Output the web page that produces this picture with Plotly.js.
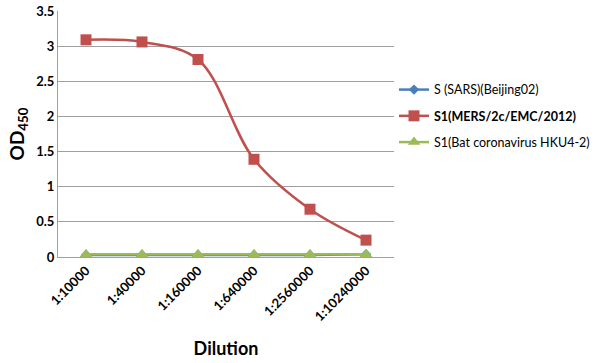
<!DOCTYPE html>
<html><head><meta charset="utf-8">
<script src="https://cdn.plot.ly/plotly-3.0.1.min.js"></script>
<style>body{margin:0;background:#fff}#c{width:595px;height:363px}</style>
</head><body><div id="c"></div>
<script>
const dilutions = ["1:10000","1:40000","1:160000","1:640000","1:2560000","1:10240000"];
const sars = [0.03,0.03,0.03,0.03,0.03,0.04];
const mers = [3.09,3.06,2.81,1.39,0.68,0.24];
const hku4 = [0.04,0.04,0.04,0.04,0.04,0.04];
const seriesNames = ["S (SARS)(Beijing02)","<b>S1(MERS/2c/EMC/2012)</b>","S1(Bat coronavirus HKU4-2)"];
const font = "Lato, 'Open Sans', sans-serif";
const traces = [
  {x:dilutions,y:sars,name:seriesNames[0],legendgroup:"a",mode:"lines+markers",line:{color:"#4a7ebb",width:2.5,shape:"spline"},marker:{symbol:"diamond",size:8,color:"#4a7ebb"}},
  {x:dilutions,y:mers,name:seriesNames[1],legendgroup:"b",mode:"lines+markers",line:{color:"#c0504d",width:2.5,shape:"spline"},marker:{symbol:"square",size:11,color:"#c0504d"}},
  {x:dilutions,y:hku4,name:seriesNames[2],legendgroup:"c",mode:"lines+markers",line:{color:"#9bbb59",width:2.5,shape:"spline"},marker:{symbol:"triangle-up",size:11,color:"#9bbb59"}}
];
const layout = {
  width:595,height:363,
  margin:{l:58,r:201,t:11,b:106,autoexpand:false},
  paper_bgcolor:"#fff",plot_bgcolor:"#fff",
  font:{family:font,color:"#000"},
  showlegend:true,
  legend:{x:1.0,y:0.74,xanchor:"left",yanchor:"top",font:{size:12.5,family:font},traceorder:"grouped",tracegroupgap:7,itemwidth:30,bgcolor:"rgba(0,0,0,0)"},
  xaxis:{type:"category",automargin:false,showgrid:false,showline:true,linecolor:"#a0a0a0",linewidth:1,ticks:"",tickangle:-45,
    tickfont:{size:13,family:font,weight:"bold"},
    title:{text:"<b>Dilution</b>",font:{size:18,family:font},standoff:19},range:[-0.5,5.5]},
  yaxis:{range:[0,3.5],dtick:0.5,automargin:false,showgrid:true,gridcolor:"#a0a0a0",showline:true,linecolor:"#a0a0a0",ticks:"",
    tickfont:{size:13,family:font,weight:"bold"},zeroline:false,
    title:{text:"<b>OD<sub>450</sub></b>",font:{size:19,family:font},standoff:6}}
};
Plotly.newPlot("c",traces,layout,{displayModeBar:false,staticPlot:true});
</script></body></html>
